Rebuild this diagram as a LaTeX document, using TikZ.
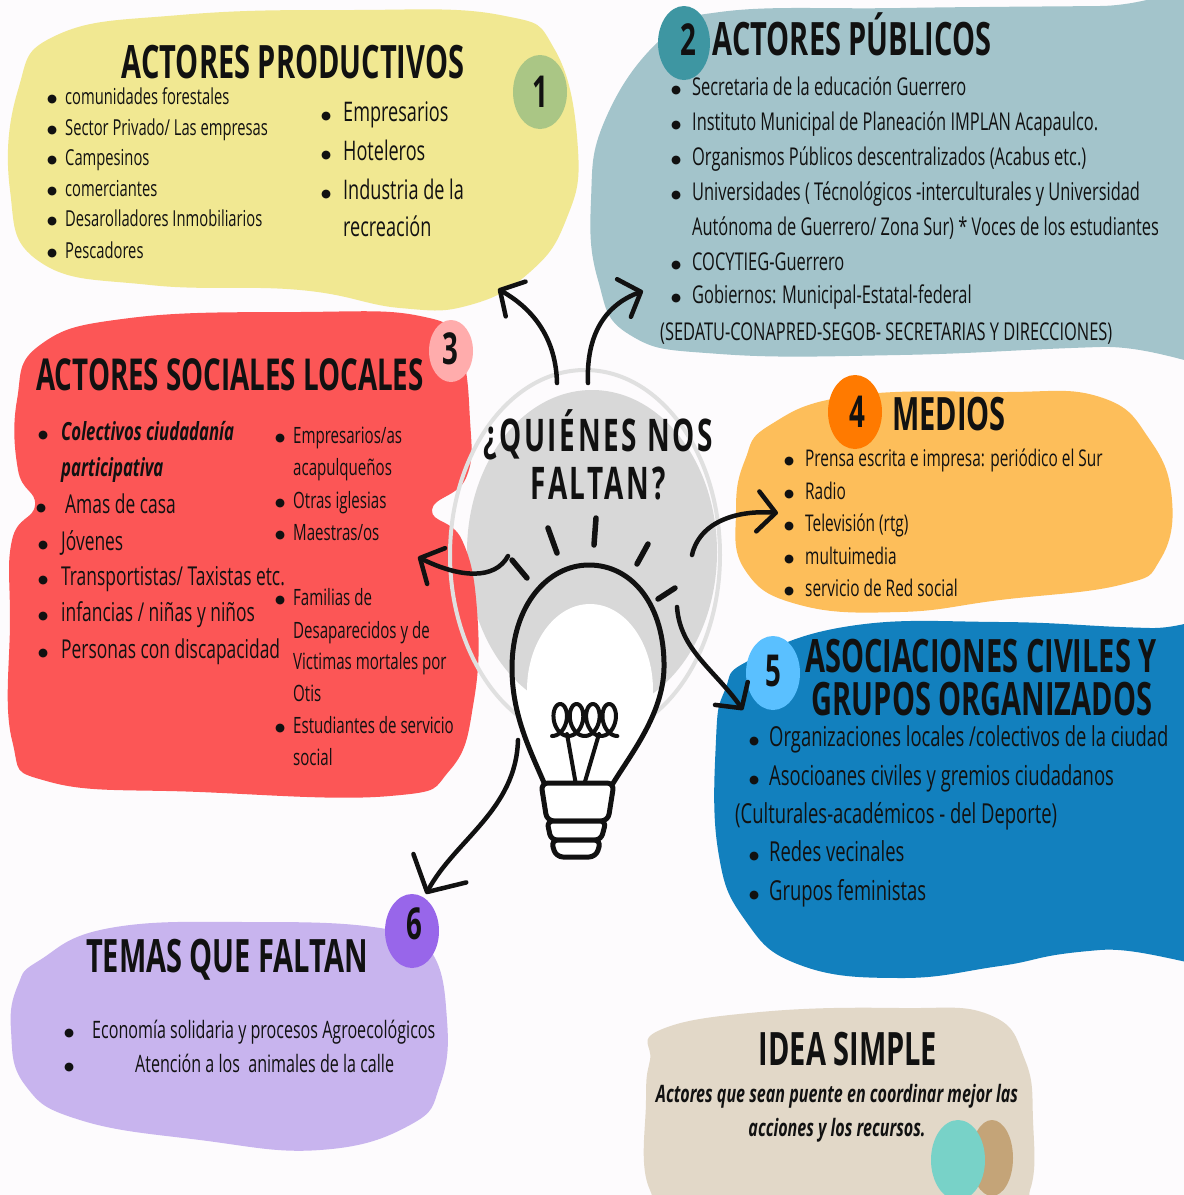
\documentclass[tikz,border=0pt]{standalone}
\usepackage{fontspec}
\setmainfont{Open Sans}[FakeStretch=0.67]
\newfontfamily\ttlfont{Open Sans}[FakeStretch=0.63]
\newfontfamily\qfont{Open Sans}[FakeStretch=0.62,LetterSpace=6]
\newfontfamily\dejavu{DejaVu Sans}
\usetikzlibrary{arrows.meta}
\definecolor{bgc}{RGB}{253,251,253}
\definecolor{ink}{RGB}{17,17,17}
\definecolor{yel}{RGB}{241,232,146}
\definecolor{grn}{RGB}{170,198,133}
\definecolor{bgr}{RGB}{163,196,203}
\definecolor{tea}{RGB}{62,150,162}
\definecolor{rdc}{RGB}{252,86,86}
\definecolor{pnk}{RGB}{255,172,172}
\definecolor{orc}{RGB}{253,190,90}
\definecolor{ora}{RGB}{255,122,0}
\definecolor{blu}{RGB}{18,128,190}
\definecolor{lbl}{RGB}{90,192,255}
\definecolor{pur}{RGB}{200,180,238}
\definecolor{vio}{RGB}{152,102,234}
\definecolor{bei}{RGB}{226,216,200}
\definecolor{tqc}{RGB}{120,210,200}
\definecolor{brn}{RGB}{196,164,120}
\definecolor{grf}{RGB}{216,216,216}
\definecolor{grr}{RGB}{224,224,224}
\newcommand\bl[1]{\makebox[#1pt][l]{\raisebox{2.6pt}{\dejavu\fontsize{11.5}{12}\selectfont ●}}}
\begin{document}
\begin{tikzpicture}[x=1pt,y=-1pt,
  txt/.style={anchor=mid west, inner sep=0pt, text=ink, yshift=-6pt},
  ctxt/.style={anchor=mid, inner sep=0pt, text=ink, yshift=-6pt},
  ttl/.style={anchor=mid, inner sep=0pt, text=ink, yshift=-9pt, text depth=0pt, font=\ttlfont\bfseries\fontsize{46}{50}\selectfont},
  qtl/.style={anchor=mid, inner sep=0pt, text=ink, yshift=-10pt, font=\qfont\bfseries\fontsize{45}{50}\selectfont},
  numtxt/.style={anchor=mid, inner sep=0pt, text=ink, yshift=-8pt, font=\ttlfont\bfseries\fontsize{44}{48}\selectfont},
  fyl/.style={font=\fontsize{22}{26}\selectfont},
  fyr/.style={font=\fontsize{27}{31}\selectfont},
  fbg/.style={font=\fontsize{24.5}{28}\selectfont},
  frl/.style={font=\fontsize{26}{30}\selectfont},
  frb/.style={font=\bfseries\itshape\fontsize{25}{30}\selectfont},
  frr/.style={font=\fontsize{22.5}{26}\selectfont},
  fog/.style={font=\fontsize{23}{27}\selectfont},
  fbl/.style={font=\fontsize{27.5}{31}\selectfont},
  fpu/.style={font=\fontsize{24}{28}\selectfont},
  fbe/.style={font=\bfseries\itshape\fontsize{24}{28}\selectfont},
  arr/.style={draw=ink, line width=4.5pt, line cap=round, -{Straight Barb[length=18pt,width=40pt,line cap=round,line join=round]}},
  bigarr/.style={draw=ink, line width=4.5pt, line cap=round, -{Straight Barb[length=27pt,width=60pt,line cap=round,line join=round]}},
  ray/.style={draw=ink, line width=5.5pt, line cap=round},
  bulbline/.style={draw=ink, line width=5pt, line join=round, line cap=round},
]
\useasboundingbox (0,0) rectangle (1184,1195);
\fill[bgc] (0,0) rectangle (1184,1195);

% central grey disc
\fill[grf] (592,552) ellipse [x radius=125, y radius=162];

% blobs
\fill[yel] plot[smooth cycle, tension=0.75] coordinates {(57,35) (180,15) (350,10) (500,15) (555,50) (578,150) (566,220) (530,272) (470,305) (400,308) (300,290) (150,285) (40,262) (10,190) (18,90)};
\fill[bgr] plot[smooth cycle, tension=0.75] coordinates {(660,40) (720,12) (900,8) (1100,6) (1320,4) (1320,342) (1100,347) (900,355) (720,354) (630,335) (598,280) (591,200) (605,120)};
\fill[rdc] plot[smooth cycle, tension=0.75] coordinates {(40,345) (130,318) (300,312) (420,316) (458,345) (470,420) (466,478) (432,510) (462,540) (477,610) (474,700) (450,770) (390,796) (200,792) (50,782) (12,740) (10,620) (12,540) (35,505) (18,470) (17,400)};
\fill[orc] plot[smooth cycle, tension=0.75] coordinates {(770,425) (850,396) (1000,392) (1100,397) (1150,440) (1172,500) (1160,560) (1120,585) (1000,600) (900,612) (800,605) (745,570) (736,510) (745,460)};
\fill[blu] plot[smooth cycle, tension=0.75] coordinates {(750,660) (850,626) (1000,622) (1150,628) (1320,630) (1320,940) (1100,950) (1000,966) (900,978) (800,965) (745,920) (718,850) (716,740) (725,690)};
\fill[pur] plot[smooth cycle, tension=0.75] coordinates {(40,960) (110,928) (250,922) (380,928) (430,950) (447,1020) (440,1085) (410,1125) (320,1150) (200,1140) (80,1120) (25,1085) (11,1030) (18,985)};
\fill[bei] plot[smooth cycle, tension=0.75] coordinates {(660,1030) (760,1012) (900,1008) (990,1015) (1025,1060) (1033,1120) (1030,1190) (1000,1215) (700,1215) (650,1190) (646,1100) (650,1060)};
\fill[brn] (992,1158) ellipse [x radius=21, y radius=38];
\fill[tqc] (958,1160) ellipse [x radius=27, y radius=40];

% light ring
\draw[grr, line width=4pt] (585,555) ellipse [x radius=135, y radius=185];

% number discs
\fill[grn] (540,92) ellipse [x radius=27, y radius=37];
\fill[tea] (684,43) ellipse [x radius=26, y radius=37];
\fill[pnk] (451,351) ellipse [x radius=22, y radius=31];
\fill[ora] (855,412) ellipse [x radius=27, y radius=37];
\fill[lbl] (773,673) ellipse [x radius=27, y radius=37];
\fill[vio] (412,931) ellipse [x radius=27, y radius=37];

% bulb
\path[fill=white] (545,785) .. controls (530,750) and (512,715) .. (512,668) .. controls (512,605) and (548,565) .. (589,565) .. controls (632,565) and (665,605) .. (664,668) .. controls (663,715) and (630,755) .. (612,785) -- cycle;
\begin{scope}
\clip (545,785) .. controls (530,750) and (512,715) .. (512,668) .. controls (512,605) and (548,565) .. (589,565) .. controls (632,565) and (665,605) .. (664,668) .. controls (663,715) and (630,755) .. (612,785) -- cycle;
\fill[grf] (592,552) ellipse [x radius=125, y radius=162];
\fill[white] (590,690) ellipse [x radius=63, y radius=86];
\end{scope}
\draw[bulbline] (545,785) .. controls (530,750) and (512,715) .. (512,668) .. controls (512,605) and (548,565) .. (589,565) .. controls (632,565) and (665,605) .. (664,668) .. controls (663,715) and (630,755) .. (612,785);
\draw[ink, line width=4pt, line cap=round, line join=round] plot[smooth, domain=-3.1416:21.99, samples=160, variable=\t] ({560.2+2.6*\t-10.5*sin(\t r)}, {720-16*cos(\t r)});
\draw[ink, line width=4pt, line cap=round] (567,734) -- (576,785);
\draw[ink, line width=4pt, line cap=round] (599,734) -- (584,785);
\draw[bulbline, fill=white, rounded corners=7pt] (541,783) -- (614,783) -- (608,821) -- (547,821) -- cycle;
\draw[bulbline, fill=white, rounded corners=6pt] (547,821) -- (606,821) -- (601,840) -- (551,840) -- cycle;
\draw[bulbline, fill=white, rounded corners=7pt] (551,840) -- (601,840) -- (596,857) -- (556,857) -- cycle;
% rays
\draw[ray] (512,560) -- (527,578);
\draw[ray] (548,528) -- (557,553);
\draw[ray] (596,518) -- (594,545);
\draw[ray] (648,544) -- (637,564);
\draw[ray] (675,588) -- (658,599);

% arrows
\coordinate (a1s) at (557,383); \coordinate (a1e) at (498,289);
\coordinate (a2s) at (588,383); \coordinate (a2e) at (643,291);
\coordinate (a3s) at (508,556); \coordinate (a3e) at (418,557);
\coordinate (a4s) at (692,555); \coordinate (a4e) at (778,513);
\coordinate (a5s) at (677,607); \coordinate (a5e) at (743,710);
\coordinate (a6s) at (518,740); \coordinate (a6e) at (426,894);
\draw[arr] (a1s) .. controls (556,340) and (535,310) .. (a1e);
\draw[arr] (a2s) .. controls (586,335) and (605,305) .. (a2e);
\draw[arr] (a3s) .. controls (495,580) and (460,578) .. (a3e);
\draw[arr] (a4s) .. controls (700,520) and (740,510) .. (a4e);
\draw[arr] (a5s) .. controls (680,650) and (715,670) .. (a5e);
\draw[bigarr] (a6s) .. controls (516,810) and (455,840) .. (a6e);

% numbers
\node[numtxt] (n1) at (540,97) {1};
\node[numtxt] (n2) at (688,45) {2};
\node[numtxt] (n3) at (450,354) {3};
\node[numtxt] (n4) at (857,417) {4};
\node[numtxt] (n5) at (773,676) {5};
\node[numtxt] (n6) at (414,929) {6};

% titles
\node[ttl] (t1) at (293,67) {ACTORES PRODUCTIVOS};
\node[ttl] (t2) at (852,44) {ACTORES PÚBLICOS};
\node[ttl, font=\ttlfont\bfseries\fontsize{44}{48}\selectfont] (t3) at (230,379) {ACTORES SOCIALES LOCALES};
\node[qtl] (tq1) at (598,439) {¿QUIÉNES NOS};
\node[qtl] (tq2) at (598,487) {FALTAN?};
\node[ttl] (t4) at (949,419) {MEDIOS};
\node[ttl] (t5a) at (981,661) {ASOCIACIONES CIVILES Y};
\node[ttl] (t5b) at (982,704) {GRUPOS ORGANIZADOS};
\node[ttl] (t6) at (227,961) {TEMAS QUE FALTAN};
\node[ttl] (t7) at (848,1054) {IDEA SIMPLE};

% 1 productive actors
\node[txt,fyl] (y1) at (47,96) {\bl{18}comunidades forestales};
\node[txt,fyl] (y2) at (47,127) {\bl{18}Sector Privado/ Las empresas};
\node[txt,fyl] (y3) at (47,157) {\bl{18}Campesinos};
\node[txt,fyl] (y4) at (47,188) {\bl{18}comerciantes};
\node[txt,fyl] (y5) at (47,218) {\bl{18}Desarolladores Inmobiliarios};
\node[txt,fyl] (y6) at (47,250) {\bl{18}Pescadores};
\node[txt,fyr] (y7) at (321,113) {\bl{22}Empresarios};
\node[txt,fyr] (y8) at (321,152) {\bl{22}Hoteleros};
\node[txt,fyr] (y9) at (321,191) {\bl{22}Industria de la};
\node[txt,fyr] (y10) at (343,228) {recreación};

% 2 public actors
\node[txt,fbg] (p1) at (671,87) {\bl{21}Secretaria de la educación Guerrero};
\node[txt,fbg] (p2) at (671,122) {\bl{21}Instituto Municipal de Planeación IMPLAN Acapaulco.};
\node[txt,fbg] (p3) at (671,157) {\bl{21}Organismos Públicos descentralizados (Acabus etc.)};
\node[txt,fbg] (p4) at (671,192) {\bl{21}Universidades ( Técnológicos -interculturales y Universidad};
\node[txt,fbg] (p5) at (692,227) {Autónoma de Guerrero/ Zona Sur) * Voces de los estudiantes};
\node[txt,fbg] (p6) at (671,262) {\bl{21}COCYTIEG-Guerrero};
\node[txt,fbg] (p7) at (671,295) {\bl{21}Gobiernos: Municipal-Estatal-federal};
\node[txt,fbg] (p8) at (660,332) {(SEDATU-CONAPRED-SEGOB- SECRETARIAS Y DIRECCIONES)};

% 3 local social actors
\node[txt,frb] (r1) at (38,432) {\bl{23}Colectivos ciudadanía};
\node[txt,frb] (r2) at (61,468) {participativa};
\node[txt,frl] (r3) at (36,505) {\bl{29}Amas de casa};
\node[txt,frl] (r4) at (38,542) {\bl{23}Jóvenes};
\node[txt,frl] (r5) at (38,577) {\bl{23}Transportistas/ Taxistas etc.};
\node[txt,frl] (r6) at (38,613) {\bl{23}infancias / niñas y niños};
\node[txt,frl] (r7) at (38,650) {\bl{23}Personas con discapacidad};
\node[txt,frr] (r8) at (275,435) {\bl{18}Empresarios/as};
\node[txt,frr] (r9) at (293,467) {acapulqueños};
\node[txt,frr] (r10) at (275,500) {\bl{18}Otras iglesias};
\node[txt,frr] (r11) at (275,532) {\bl{18}Maestras/os};
\node[txt,frr] (r12) at (275,597) {\bl{18}Familias de};
\node[txt,frr] (r13) at (293,630) {Desaparecidos y de};
\node[txt,frr] (r14) at (293,661) {Victimas mortales por};
\node[txt,frr] (r15) at (293,693) {Otis};
\node[txt,frr] (r16) at (275,725) {\bl{18}Estudiantes de servicio};
\node[txt,frr] (r17) at (293,757) {social};

% 4 media
\node[txt,fog] (m1) at (784,458) {\bl{21}Prensa escrita e impresa: periódico el Sur};
\node[txt,fog] (m2) at (784,491) {\bl{21}Radio};
\node[txt,fog] (m3) at (784,523) {\bl{21}Televisión (rtg)};
\node[txt,fog] (m4) at (784,556) {\bl{21}multuimedia};
\node[txt,fog] (m5) at (784,588) {\bl{21}servicio de Red social};

% 5 associations
\node[txt,fbl] (s1) at (749,738) {\bl{20}Organizaciones locales /colectivos de la ciudad};
\node[txt,fbl] (s2) at (749,777) {\bl{20}Asocioanes civiles y gremios ciudadanos};
\node[txt,fbl] (s3) at (735,815) {(Culturales-académicos - del Deporte)};
\node[txt,fbl] (s4) at (749,853) {\bl{20}Redes vecinales};
\node[txt,fbl] (s5) at (749,892) {\bl{20}Grupos feministas};

% 6 missing topics
\node[txt,fpu] (u1) at (64,1030) {\bl{28}Economía solidaria y procesos Agroecológicos};
\node[txt,fpu] (u2) at (64,1064) {\bl{71}Atención a los\ \ animales de la calle};

% simple idea
\node[ctxt,fbe] (i1) at (837,1094) {Actores que sean puente en coordinar mejor las};
\node[ctxt,fbe] (i2) at (837,1128) {acciones y los recursos.};
\end{tikzpicture}
\end{document}
